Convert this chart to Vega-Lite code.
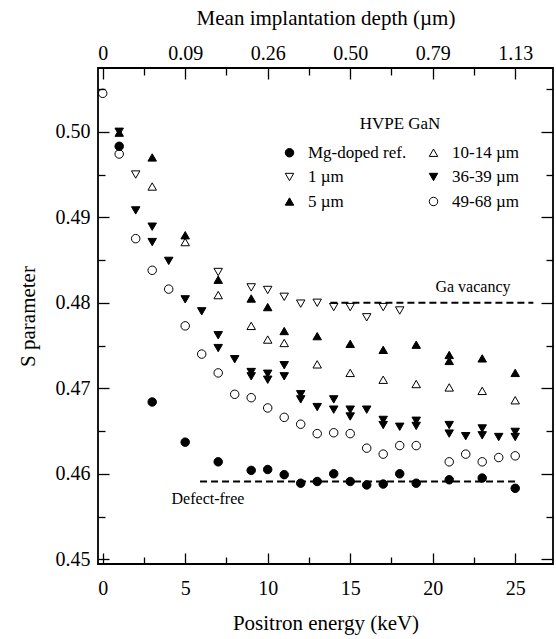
{
  "$schema": "https://vega.github.io/schema/vega-lite/v6.json",
  "autosize": {"type": "none"},
  "padding": {"left": 98, "top": 68, "right": 3, "bottom": 75},
  "width": 455,
  "height": 496,
  "config": {
    "view": {"stroke": "black", "strokeWidth": 1.8},
    "font": "Liberation Serif",
    "axis": {"domain": false, "grid": false, "tickColor": "black", "tickWidth": 1.3, "labelColor": "black", "titleColor": "black", "labelFont": "Liberation Serif", "titleFont": "Liberation Serif", "labelFontSize": 20, "titleFontSize": 21, "titleFontWeight": "normal", "labelFlush": false, "labelOverlap": false},
    "legend": {"orient": "none", "legendX": 183, "legendY": 48, "columns": 2, "columnPadding": 18, "rowPadding": 6.5, "padding": 0,
      "labelFont": "Liberation Serif", "labelFontSize": 17, "labelColor": "black", "labelOffset": 10, "labelLimit": 300,
      "titleFont": "Liberation Serif", "titleFontSize": 17, "titleFontWeight": "normal", "titleColor": "black", "titleAnchor": "middle", "titlePadding": 11,
      "symbolSize": 72, "symbolStrokeWidth": 1, "symbolOpacity": 1}
  },
  "datasets": {
    "pts": [
      {"E": 1, "S": 0.4983, "sample": "Mg-doped ref."},
      {"E": 3, "S": 0.4684, "sample": "Mg-doped ref."},
      {"E": 5, "S": 0.4637, "sample": "Mg-doped ref."},
      {"E": 7, "S": 0.4614, "sample": "Mg-doped ref."},
      {"E": 9, "S": 0.4604, "sample": "Mg-doped ref."},
      {"E": 10, "S": 0.4605, "sample": "Mg-doped ref."},
      {"E": 11, "S": 0.4599, "sample": "Mg-doped ref."},
      {"E": 12, "S": 0.4589, "sample": "Mg-doped ref."},
      {"E": 13, "S": 0.4591, "sample": "Mg-doped ref."},
      {"E": 14, "S": 0.4600, "sample": "Mg-doped ref."},
      {"E": 15, "S": 0.4591, "sample": "Mg-doped ref."},
      {"E": 16, "S": 0.4587, "sample": "Mg-doped ref."},
      {"E": 17, "S": 0.4588, "sample": "Mg-doped ref."},
      {"E": 18, "S": 0.4600, "sample": "Mg-doped ref."},
      {"E": 19, "S": 0.4589, "sample": "Mg-doped ref."},
      {"E": 21, "S": 0.4593, "sample": "Mg-doped ref."},
      {"E": 23, "S": 0.4595, "sample": "Mg-doped ref."},
      {"E": 25, "S": 0.4583, "sample": "Mg-doped ref."},
      {"E": 2, "S": 0.4950, "sample": "1 µm"},
      {"E": 7, "S": 0.4836, "sample": "1 µm"},
      {"E": 9, "S": 0.4818, "sample": "1 µm"},
      {"E": 10, "S": 0.4815, "sample": "1 µm"},
      {"E": 11, "S": 0.4807, "sample": "1 µm"},
      {"E": 12, "S": 0.4799, "sample": "1 µm"},
      {"E": 13, "S": 0.4800, "sample": "1 µm"},
      {"E": 14, "S": 0.4795, "sample": "1 µm"},
      {"E": 15, "S": 0.4795, "sample": "1 µm"},
      {"E": 16, "S": 0.4783, "sample": "1 µm"},
      {"E": 17, "S": 0.4795, "sample": "1 µm"},
      {"E": 18, "S": 0.4791, "sample": "1 µm"},
      {"E": 1, "S": 0.4999, "sample": "5 µm"},
      {"E": 3, "S": 0.4970, "sample": "5 µm"},
      {"E": 5, "S": 0.4879, "sample": "5 µm"},
      {"E": 7, "S": 0.4827, "sample": "5 µm"},
      {"E": 9, "S": 0.4805, "sample": "5 µm"},
      {"E": 10, "S": 0.4795, "sample": "5 µm"},
      {"E": 11, "S": 0.4767, "sample": "5 µm"},
      {"E": 13, "S": 0.4761, "sample": "5 µm"},
      {"E": 15, "S": 0.4752, "sample": "5 µm"},
      {"E": 17, "S": 0.4745, "sample": "5 µm"},
      {"E": 19, "S": 0.4751, "sample": "5 µm"},
      {"E": 21, "S": 0.4739, "sample": "5 µm"},
      {"E": 21, "S": 0.4732, "sample": "5 µm"},
      {"E": 23, "S": 0.4735, "sample": "5 µm"},
      {"E": 25, "S": 0.4718, "sample": "5 µm"},
      {"E": 3, "S": 0.4936, "sample": "10-14 µm"},
      {"E": 5, "S": 0.4871, "sample": "10-14 µm"},
      {"E": 7, "S": 0.4809, "sample": "10-14 µm"},
      {"E": 9, "S": 0.4773, "sample": "10-14 µm"},
      {"E": 10, "S": 0.4757, "sample": "10-14 µm"},
      {"E": 11, "S": 0.4753, "sample": "10-14 µm"},
      {"E": 13, "S": 0.4728, "sample": "10-14 µm"},
      {"E": 15, "S": 0.4718, "sample": "10-14 µm"},
      {"E": 17, "S": 0.4710, "sample": "10-14 µm"},
      {"E": 19, "S": 0.4705, "sample": "10-14 µm"},
      {"E": 21, "S": 0.4701, "sample": "10-14 µm"},
      {"E": 23, "S": 0.4697, "sample": "10-14 µm"},
      {"E": 25, "S": 0.4686, "sample": "10-14 µm"},
      {"E": 1, "S": 0.5000, "sample": "36-39 µm"},
      {"E": 2, "S": 0.4908, "sample": "36-39 µm"},
      {"E": 3, "S": 0.4889, "sample": "36-39 µm"},
      {"E": 3, "S": 0.4871, "sample": "36-39 µm"},
      {"E": 4, "S": 0.4849, "sample": "36-39 µm"},
      {"E": 5, "S": 0.4804, "sample": "36-39 µm"},
      {"E": 6, "S": 0.4790, "sample": "36-39 µm"},
      {"E": 7, "S": 0.4762, "sample": "36-39 µm"},
      {"E": 7, "S": 0.4747, "sample": "36-39 µm"},
      {"E": 8, "S": 0.4734, "sample": "36-39 µm"},
      {"E": 9, "S": 0.4719, "sample": "36-39 µm"},
      {"E": 9, "S": 0.4714, "sample": "36-39 µm"},
      {"E": 10, "S": 0.4717, "sample": "36-39 µm"},
      {"E": 10, "S": 0.4710, "sample": "36-39 µm"},
      {"E": 11, "S": 0.4727, "sample": "36-39 µm"},
      {"E": 11, "S": 0.4714, "sample": "36-39 µm"},
      {"E": 12, "S": 0.4693, "sample": "36-39 µm"},
      {"E": 12, "S": 0.4687, "sample": "36-39 µm"},
      {"E": 13, "S": 0.4678, "sample": "36-39 µm"},
      {"E": 14, "S": 0.4687, "sample": "36-39 µm"},
      {"E": 14, "S": 0.4675, "sample": "36-39 µm"},
      {"E": 15, "S": 0.4675, "sample": "36-39 µm"},
      {"E": 15, "S": 0.4667, "sample": "36-39 µm"},
      {"E": 16, "S": 0.4675, "sample": "36-39 µm"},
      {"E": 17, "S": 0.4663, "sample": "36-39 µm"},
      {"E": 17, "S": 0.4657, "sample": "36-39 µm"},
      {"E": 18, "S": 0.4655, "sample": "36-39 µm"},
      {"E": 19, "S": 0.4662, "sample": "36-39 µm"},
      {"E": 19, "S": 0.4656, "sample": "36-39 µm"},
      {"E": 21, "S": 0.4657, "sample": "36-39 µm"},
      {"E": 21, "S": 0.4647, "sample": "36-39 µm"},
      {"E": 22, "S": 0.4644, "sample": "36-39 µm"},
      {"E": 23, "S": 0.4653, "sample": "36-39 µm"},
      {"E": 23, "S": 0.4645, "sample": "36-39 µm"},
      {"E": 24, "S": 0.4643, "sample": "36-39 µm"},
      {"E": 25, "S": 0.4649, "sample": "36-39 µm"},
      {"E": 25, "S": 0.4643, "sample": "36-39 µm"},
      {"E": 0, "S": 0.5045, "sample": "49-68 µm"},
      {"E": 1, "S": 0.4974, "sample": "49-68 µm"},
      {"E": 2, "S": 0.4875, "sample": "49-68 µm"},
      {"E": 3, "S": 0.4838, "sample": "49-68 µm"},
      {"E": 4, "S": 0.4816, "sample": "49-68 µm"},
      {"E": 5, "S": 0.4773, "sample": "49-68 µm"},
      {"E": 6, "S": 0.4740, "sample": "49-68 µm"},
      {"E": 7, "S": 0.4718, "sample": "49-68 µm"},
      {"E": 8, "S": 0.4693, "sample": "49-68 µm"},
      {"E": 9, "S": 0.4689, "sample": "49-68 µm"},
      {"E": 10, "S": 0.4677, "sample": "49-68 µm"},
      {"E": 11, "S": 0.4666, "sample": "49-68 µm"},
      {"E": 12, "S": 0.4658, "sample": "49-68 µm"},
      {"E": 13, "S": 0.4647, "sample": "49-68 µm"},
      {"E": 14, "S": 0.4648, "sample": "49-68 µm"},
      {"E": 15, "S": 0.4647, "sample": "49-68 µm"},
      {"E": 16, "S": 0.4630, "sample": "49-68 µm"},
      {"E": 17, "S": 0.4623, "sample": "49-68 µm"},
      {"E": 18, "S": 0.4633, "sample": "49-68 µm"},
      {"E": 19, "S": 0.4633, "sample": "49-68 µm"},
      {"E": 21, "S": 0.4614, "sample": "49-68 µm"},
      {"E": 22, "S": 0.4623, "sample": "49-68 µm"},
      {"E": 23, "S": 0.4614, "sample": "49-68 µm"},
      {"E": 24, "S": 0.4619, "sample": "49-68 µm"},
      {"E": 25, "S": 0.4621, "sample": "49-68 µm"}
    ],
    "lines": [
      {"x": 13.8, "x2": 26.1, "y": 0.48},
      {"x": 5.9, "x2": 25.2, "y": 0.4591}
    ],
    "notes": [
      {"label": "Ga vacancy", "x": 22.44, "y": 0.4819},
      {"label": "Defect-free", "x": 6.38, "y": 0.4571}
    ]
  },
  "resolve": {"axis": {"x": "independent", "y": "independent"}},
  "layer": [
    {
      "data": {"name": "lines"},
      "mark": {"type": "rule", "strokeDash": [7, 4], "strokeWidth": 2, "color": "black"},
      "encoding": {
        "x": {"field": "x", "type": "quantitative", "scale": {"domain": [-0.285, 27.29], "nice": false, "zero": false},
          "axis": {"orient": "bottom", "values": [0, 2.5, 5, 7.5, 10, 12.5, 15, 17.5, 20, 22.5, 25],
            "labelExpr": "datum.value % 5 == 0 ? datum.label : ''",
            "tickSize": {"condition": {"test": "datum.value % 5 == 0", "value": -11}, "value": -7},
            "labelPadding": 25, "title": "Positron energy (keV)", "titleY": 59, "titleBaseline": "middle"}},
        "x2": {"field": "x2"},
        "y": {"field": "y", "type": "quantitative", "scale": {"domain": [0.44945, 0.50746], "nice": false, "zero": false},
          "axis": {"orient": "left", "values": [0.45, 0.455, 0.46, 0.465, 0.47, 0.475, 0.48, 0.485, 0.49, 0.495, 0.5, 0.505],
            "labelExpr": "abs(datum.value*100 - round(datum.value*100)) < 0.01 ? format(datum.value, '.2f') : ''",
            "tickSize": {"condition": {"test": "abs(datum.value*100 - round(datum.value*100)) < 0.01", "value": -11}, "value": -7},
            "labelPadding": 19, "title": "S parameter", "titleX": -70, "titleY": 248, "titleAngle": -90, "titleBaseline": "middle", "titleAlign": "center"}}
      }
    },
    {
      "data": {"name": "pts"},
      "mark": {"type": "point", "filled": true, "strokeWidth": 1, "size": 72, "opacity": 1},
      "encoding": {
        "x": {"field": "E", "type": "quantitative", "axis": null},
        "y": {"field": "S", "type": "quantitative", "axis": null},
        "shape": {"field": "sample", "type": "nominal", "legend": {"title": "HVPE GaN"},
          "scale": {"domain": ["Mg-doped ref.", "1 µm", "5 µm", "10-14 µm", "36-39 µm", "49-68 µm"],
            "range": ["circle", "triangle-down", "triangle-up", "triangle-up", "triangle-down", "circle"]}},
        "fill": {"field": "sample", "type": "nominal", "legend": {"title": "HVPE GaN"},
          "scale": {"domain": ["Mg-doped ref.", "1 µm", "5 µm", "10-14 µm", "36-39 µm", "49-68 µm"],
            "range": ["black", "transparent", "black", "transparent", "black", "transparent"]}},
        "stroke": {"field": "sample", "type": "nominal", "legend": {"title": "HVPE GaN"},
          "scale": {"domain": ["Mg-doped ref.", "1 µm", "5 µm", "10-14 µm", "36-39 µm", "49-68 µm"],
            "range": ["black", "black", "black", "black", "black", "black"]}}
      }
    },
    {
      "data": {"name": "notes"},
      "mark": {"type": "text", "font": "Liberation Serif", "fontSize": 16, "color": "black", "align": "center", "baseline": "middle"},
      "encoding": {
        "x": {"field": "x", "type": "quantitative",
          "axis": {"orient": "top", "values": [0, 2.5, 5, 7.5, 10, 12.5, 15, 17.5, 20, 22.5, 25],
            "labelExpr": "datum.value == 0 ? '0' : datum.value == 5 ? '0.09' : datum.value == 10 ? '0.26' : datum.value == 15 ? '0.50' : datum.value == 20 ? '0.79' : datum.value == 25 ? '1.13' : ''",
            "tickSize": {"condition": {"test": "datum.value % 5 == 0", "value": -11}, "value": -7},
            "labelPadding": 16, "title": "Mean implantation depth (µm)", "titleY": -50, "titleBaseline": "middle"}},
        "y": {"field": "y", "type": "quantitative",
          "axis": {"orient": "right", "values": [0.45, 0.455, 0.46, 0.465, 0.47, 0.475, 0.48, 0.485, 0.49, 0.495, 0.5, 0.505],
            "labels": false, "title": null,
            "tickSize": {"condition": {"test": "abs(datum.value*100 - round(datum.value*100)) < 0.01", "value": -12}, "value": -7}}},
        "text": {"field": "label"}
      }
    }
  ]
}
